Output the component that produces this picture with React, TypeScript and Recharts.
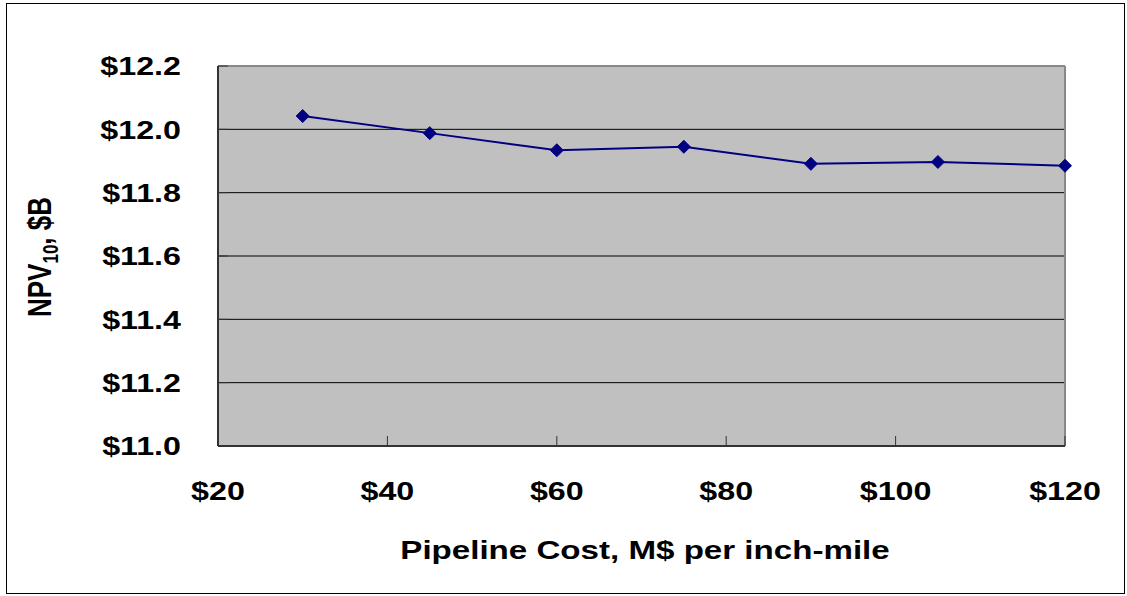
import React from "react";
import {
  LineChart,
  Line,
  XAxis,
  YAxis,
  CartesianGrid,
  ReferenceLine,
  Label,
} from "recharts";

const pipelineCost = [30, 45, 60, 75, 90, 105, 120];
const npv10 = [12.042, 11.988, 11.934, 11.945, 11.891, 11.897, 11.885];
const xTicks = [20, 40, 60, 80, 100, 120];
const yTicks = [11.0, 11.2, 11.4, 11.6, 11.8, 12.0, 12.2];

const data = pipelineCost.map((c, i) => ({ cost: c, npv: npv10[i] }));

const FONT = '"Liberation Sans", Arial, sans-serif';
// the original picture is stretched a bit horizontally
const STRETCH = 1.24;

function XTick(props: any) {
  const { x, y, payload } = props;
  return (
    <g transform={`translate(${x},${y})`}>
      <text
        transform={`scale(${STRETCH},1)`}
        textAnchor="middle"
        dy="0.71em"
        fontFamily={FONT}
        fontWeight="bold"
        fontSize={26}
        fill="#000"
      >
        ${payload.value}
      </text>
    </g>
  );
}

function YTick(props: any) {
  const { x, y, payload } = props;
  return (
    <g transform={`translate(${x},${y})`}>
      <text
        transform={`scale(${STRETCH},1)`}
        textAnchor="end"
        dy="0.355em"
        fontFamily={FONT}
        fontWeight="bold"
        fontSize={26}
        fill="#000"
      >
        ${Number(payload.value).toFixed(1)}
      </text>
    </g>
  );
}

function Diamond(props: any) {
  const { cx, cy } = props;
  if (cx == null || cy == null) return null;
  const r = 6.5;
  return (
    <polygon
      points={`${cx},${cy - r} ${cx + r},${cy} ${cx},${cy + r} ${cx - r},${cy}`}
      fill="#000080"
      stroke="#000080"
    />
  );
}

const XTitle = () => (
  <text
    transform={`translate(645,550) scale(1.25,1)`}
    textAnchor="middle"
    dy="0.355em"
    fontFamily={FONT}
    fontWeight="bold"
    fontSize={26.5}
    fill="#000"
  >
    Pipeline Cost, M$ per inch-mile
  </text>
);

const YTitle = () => (
  <text
    transform={`translate(39,257) scale(1.25,1) rotate(-90)`}
    textAnchor="middle"
    dy="0.355em"
    fontFamily={FONT}
    fontWeight="bold"
    fontSize={26}
    fill="#000"
  >
    NPV
    <tspan fontSize={17} dy="6">10</tspan>
    <tspan dy="-6">{", $B"}</tspan>
  </text>
);

export default function App() {
  return (
    <div style={{ position: "absolute", left: 0, top: 0, width: 1127, height: 596, background: "#fff" }}>
      <div
        style={{
          position: "absolute",
          left: 6,
          top: 3,
          width: 1119,
          height: 591,
          border: "1px solid #000",
          boxSizing: "border-box",
        }}
      />
      <LineChart
        width={1127}
        height={596}
        data={data}
        margin={{ top: 66, right: 62, bottom: 0, left: 0 }}
      >
        <CartesianGrid
          vertical={false}
          stroke="#000"
          strokeWidth={1}
          fill="#C0C0C0"
          fillOpacity={1}
        />
        <XAxis
          dataKey="cost"
          type="number"
          domain={[20, 120]}
          ticks={xTicks}
          height={150}
          tickSize={-10}
          tickMargin={46}
          axisLine={{ stroke: "#333", strokeWidth: 2 }}
          tickLine={{ stroke: "#333" }}
          tick={<XTick />}
          interval={0}
        >
          <Label content={<XTitle />} />
        </XAxis>
        <YAxis
          type="number"
          domain={[11, 12.2]}
          ticks={yTicks}
          width={218}
          tickSize={-10}
          tickMargin={47}
          axisLine={{ stroke: "#333", strokeWidth: 2 }}
          tickLine={{ stroke: "#333" }}
          tick={<YTick />}
          interval={0}
        >
          <Label content={<YTitle />} />
        </YAxis>
        <ReferenceLine y={12.2} stroke="#888" strokeWidth={2} />
        <ReferenceLine x={120} stroke="#888" strokeWidth={2} />
        <Line
          dataKey="npv"
          type="linear"
          stroke="#000080"
          strokeWidth={2}
          dot={<Diamond />}
          activeDot={false}
          isAnimationActive={false}
        />
      </LineChart>
    </div>
  );
}
